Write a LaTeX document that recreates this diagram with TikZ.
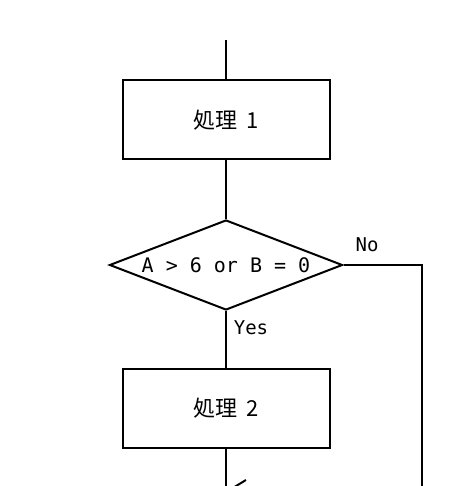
\documentclass[tikz,border=0pt]{standalone}
\usepackage{fontspec}
\newfontfamily\jpfont{Noto Sans CJK JP}
\newfontfamily\monofont{DejaVu Sans Mono}
\usetikzlibrary{shapes.geometric,arrows.meta}
\begin{document}
\begin{tikzpicture}[x=1pt,y=-1pt,
  flow/.style={line width=2pt,draw=black},
  procbox/.style={flow,rectangle,minimum width=207pt,minimum height=79pt,inner sep=0pt,
    font=\jpfont\fontsize{22}{26}\selectfont},
  decbox/.style={flow,diamond,aspect=2.6,minimum width=233pt,minimum height=90pt,inner sep=0pt,
    font=\monofont\fontsize{20}{24}\selectfont},
  lbl/.style={inner sep=0pt,font=\monofont\fontsize{19}{23}\selectfont}]
\useasboundingbox (0,0) rectangle (458,486);
\clip (0,0) rectangle (458,486);
\fill[white] (0,0) rectangle (458,486);
\coordinate (top) at (226,40);
\node[procbox] (box1) at (226,120) {処理\hspace{9pt}1};
\node[decbox] (dia) at (226,265) {A > 6 or B = 0};
\node[procbox] (box2) at (226,408) {処理\hspace{9pt}2};
\coordinate (corner) at (422,491);
\coordinate (join) at (226,491);
\coordinate (bot) at (226,500);
\node[lbl] (no) at (367,245) {No};
\node[lbl] (yes) at (251,328) {Yes};
\draw[flow] (top) -- (box1.north);
\draw[flow] (box1.south) -- (dia.north);
\draw[flow] (dia.south) -- (box2.north);
\draw[flow] (box2.south) -- (bot);
\draw[flow,-{Straight Barb[length=18pt,width=22pt]}] (dia.east) -| (corner) -- (join);
\end{tikzpicture}
\end{document}
